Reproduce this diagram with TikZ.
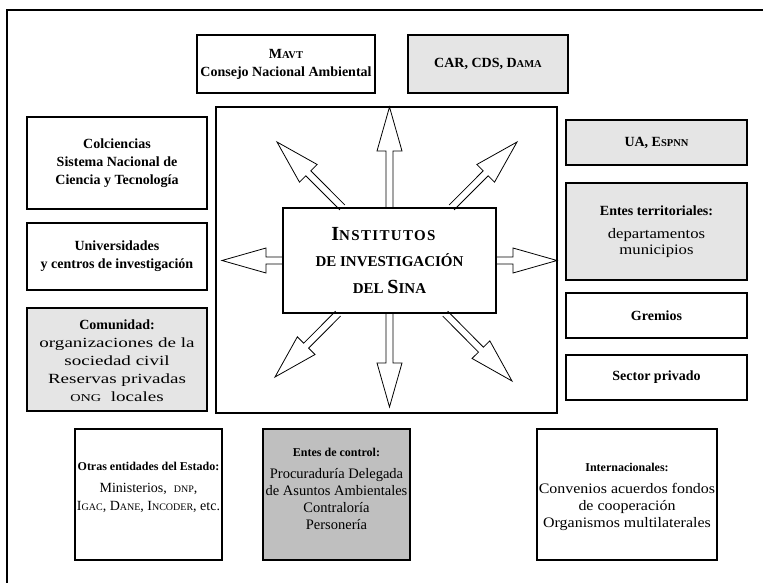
\documentclass[tikz,border=0pt]{standalone}
\usepackage{fontspec}
\setmainfont{Liberation Serif}
\newfontfamily\wideA[FakeStretch=1.36]{Liberation Serif}
\newfontfamily\wideB[FakeStretch=1.15]{Liberation Serif}
\newfontfamily\wideC[FakeStretch=1.1]{Liberation Serif}
\newfontfamily\titlefont[LetterSpace=9]{Liberation Serif}
\usetikzlibrary{calc}
\newcommand{\sca}[1]{{\fontsize{10.5}{10}\selectfont #1}}
\newcommand{\scb}[1]{{\fontsize{10}{10}\selectfont #1}}
\newcommand{\barrow}[2]{%
  \draw[arrline] let \p1=(#1), \p2=(#2),
      \n1={atan2(\y2-\y1,\x2-\x1)}, \n2={veclen(\x2-\x1,\y2-\y1)} in
    ($(\p1)+(\n1+90:3.5pt)$) --
    ($(\p1)+(\n1:{\n2-44pt})+(\n1+90:3.5pt)$) --
    ($(\p1)+(\n1:{\n2-44pt})+(\n1+90:12.5pt)$) --
    (\p2) --
    ($(\p1)+(\n1:{\n2-44pt})+(\n1-90:12.5pt)$) --
    ($(\p1)+(\n1:{\n2-44pt})+(\n1-90:3.5pt)$) --
    ($(\p1)+(\n1-90:3.5pt)$);}
\begin{document}
\begin{tikzpicture}[x=1pt,y=-1pt,
  box/.style={draw, line width=1.2pt, inner sep=0pt, align=center},
  bt/.style={font=\fontsize{14}{18}\selectfont\bfseries},
  nt/.style={align=center, inner sep=0pt, font=\fontsize{14.5}{17}\selectfont},
  lgray/.style={fill=black!10},
  dgray/.style={fill=black!25},
  arrline/.style={line width=0.8pt, line join=miter},
  ]
\useasboundingbox (0,0) rectangle (763,583);
\draw[line width=1.3pt] (7,583) -- (7,10) -- (763,10);

% top
\node[box,bt,minimum width=178,minimum height=58] (mavt) at (286,64)
  {M\sca{AVT}\\Consejo Nacional Ambiental};
\node[box,bt,lgray,minimum width=160,minimum height=58] (car) at (488,64)
  {CAR, CDS, D\sca{AMA}};

% left
\node[box,bt,minimum width=180,minimum height=92] (colc) at (117,163)
  {Colciencias\\Sistema Nacional de\\Ciencia y Tecnología};
\node[box,bt,minimum width=180,minimum height=67] (univ) at (117,256.5)
  {Universidades\\y centros de investigación};
\node[box,lgray,minimum width=180,minimum height=103] (comu) at (117,359.5) {};
\node[nt,font=\wideA\fontsize{14}{18}\selectfont] (comut) at (117,360.5)
  {{\normalfont\fontsize{14}{18}\selectfont\bfseries Comunidad:}\\organizaciones de la\\sociedad civil\\Reservas privadas\\{\fontsize{10.5}{10}\selectfont ONG}\ \ locales};

% centre
\node[box,minimum width=341,minimum height=306] (big) at (386.5,260) {};
\node[box,minimum width=213,minimum height=105,font=\fontsize{15}{26.5}\selectfont\bfseries] (ctr) at (389.5,260.5)
  {{\titlefont\bfseries{\fontsize{20}{26.5}\selectfont I}NSTITUTOS}\rule{12pt}{0pt}\\DE INVESTIGACIÓN\\DEL {\fontsize{20}{26.5}\selectfont S}INA};

\coordinate (tN) at (389.5,107);
\coordinate (tS) at (389.5,407);
\coordinate (tW) at (222,260.5);
\coordinate (tE) at (557,260.5);
\coordinate (tNW) at (277,142);
\coordinate (tNE) at (517,142);
\coordinate (tSW) at (275,377);
\coordinate (tSE) at (512,381);

\barrow{ctr.north}{tN}
\barrow{ctr.south}{tS}
\barrow{ctr.west}{tW}
\barrow{ctr.east}{tE}
\barrow{$(ctr.north west)!0.28!(ctr.north east)$}{tNW}
\barrow{$(ctr.north west)!0.79!(ctr.north east)$}{tNE}
\barrow{$(ctr.south west)!0.26!(ctr.south east)$}{tSW}
\barrow{$(ctr.south west)!0.76!(ctr.south east)$}{tSE}

% right
\node[box,bt,lgray,minimum width=181,minimum height=45] (ua) at (656.5,142.5)
  {UA, E\sca{SPNN}};
\node[box,lgray,minimum width=181,minimum height=97] (ent) at (656.5,231.5) {};
\node[nt,font=\wideB\fontsize{14.5}{16}\selectfont] (entt) at (656.5,231.5)
  {{\normalfont\fontsize{14}{17}\selectfont\bfseries Entes territoriales:}\\[7pt]departamentos\\municipios};
\node[box,bt,minimum width=181,minimum height=45] (grem) at (656.5,315.5) {Gremios};
\node[box,bt,minimum width=181,minimum height=45] (sect) at (656.5,377.5) {Sector privado};

% bottom
\node[box,minimum width=147,minimum height=131] (otras) at (148.5,494.5) {};
\node[nt,font=\fontsize{14}{18}\selectfont] (otrast) at (148.5,487)
  {{\fontsize{12}{15}\selectfont\bfseries Otras entidades del Estado:}\\[4pt]Ministerios,\ \ \scb{DNP},\\I\scb{GAC}, D\scb{ANE}, I\scb{NCODER}, etc.};
\node[box,dgray,minimum width=147,minimum height=131] (ctrl) at (336.5,494.5) {};
\node[nt] (ctrlt) at (336.5,489)
  {{\fontsize{12}{15}\selectfont\bfseries Entes de control:}\\[5pt]Procuraduría Delegada\\de Asuntos Ambientales\\Contraloría\\Personería};
\node[box,minimum width=180,minimum height=131] (inter) at (627,494.5) {};
\node[nt,font=\wideC\fontsize{14.5}{17}\selectfont] (intert) at (627,496.5)
  {{\normalfont\fontsize{12}{15}\selectfont\bfseries Internacionales:}\\[5pt]Convenios acuerdos fondos\\de cooperación\\Organismos multilaterales};
\end{tikzpicture}
\end{document}
